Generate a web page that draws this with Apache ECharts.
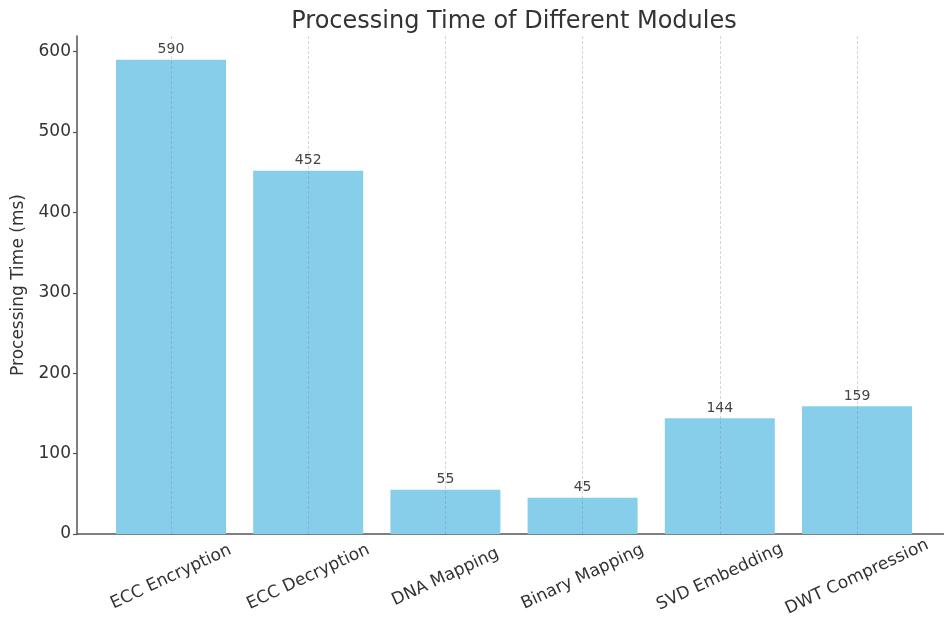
<!DOCTYPE html>
<html>
<head>
<meta charset="utf-8">
<script src="https://cdn.jsdelivr.net/npm/echarts@6/dist/echarts.min.js"></script>
<style>
html,body{margin:0;padding:0;background:#fff;}
#chart{width:944px;height:626px;}
</style>
</head>
<body>
<div id="chart"></div>
<script>
const categories = ["ECC Encryption", "ECC Decryption", "DNA Mapping", "Binary Mapping", "SVD Embedding", "DWT Compression"];
const times = [590, 452, 55, 45, 144, 159];
const yTicks = [0, 100, 200, 300, 400, 500, 600];

const FONT = "DejaVu Sans";
const idx = categories.map((c, i) => i);
const chart = echarts.init(document.getElementById('chart'), null, {renderer: 'canvas'});

chart.setOption({
  animation: false,
  backgroundColor: '#ffffff',
  title: {
    text: 'Processing Time of Different Modules',
    left: 509,
    textAlign: 'center',
    top: 5,
    textStyle: {fontFamily: FONT, fontSize: 24, fontWeight: 'normal', color: '#333'}
  },
  grid: {left: 77, right: 0, top: 36, bottom: 92},
  xAxis: {
    type: 'value',
    min: -0.685,
    max: 5.634,
    splitLine: {show: false},
    axisLine: {show: true, onZero: false, lineStyle: {color: '#555', width: 1.5}},
    axisTick: {show: true, inside: true, length: 4, customValues: idx, lineStyle: {color: '#555', width: 1.2}},
    axisLabel: {
      customValues: idx,
      formatter: v => categories[Math.round(v)],
      rotate: 25,
      align: 'center',
      verticalAlign: 'middle',
      margin: 43,
      fontFamily: FONT, fontSize: 17, color: '#333'
    }
  },
  yAxis: {
    type: 'value',
    min: 0,
    max: 619.5,
    name: 'Processing Time (ms)',
    nameLocation: 'middle',
    nameGap: 50,
    nameTextStyle: {fontFamily: FONT, fontSize: 17, color: '#333'},
    splitLine: {show: false},
    axisLine: {show: true, onZero: false, lineStyle: {color: '#555', width: 1.5}},
    axisTick: {show: true, length: 4, customValues: yTicks, lineStyle: {color: '#555', width: 1.2}},
    axisLabel: {customValues: yTicks, margin: 6, fontFamily: FONT, fontSize: 17, color: '#333'}
  },
  series: [{
    type: 'bar',
    barWidth: 110,
    data: times.map((v, i) => [i, v]),
    itemStyle: {color: '#87CEEB'},
    label: {show: true, position: 'top', distance: 3, fontFamily: FONT, fontSize: 14, color: '#444',
      formatter: p => p.value[1]},
    markLine: {
      silent: true,
      symbol: 'none',
      label: {show: false},
      lineStyle: {type: [3, 2], color: 'rgba(120,120,120,0.3)', width: 1},
      data: idx.map(i => ({xAxis: i}))
    }
  }]
});
</script>
</body>
</html>
